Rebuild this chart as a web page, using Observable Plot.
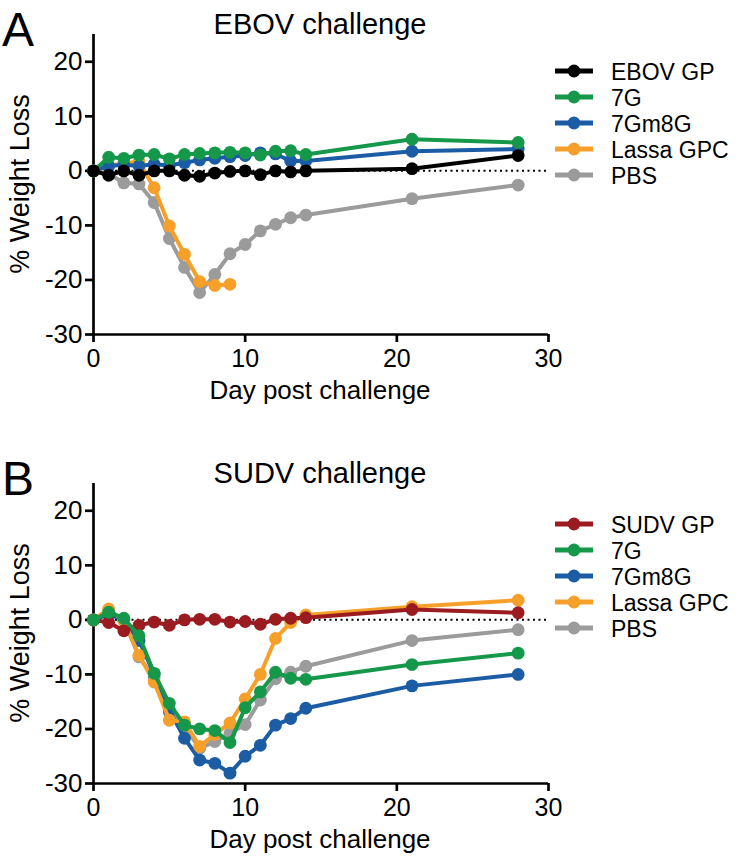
<!DOCTYPE html>
<html><head><meta charset="utf-8">
<script src="https://cdn.jsdelivr.net/npm/d3@7"></script>
<script src="https://cdn.jsdelivr.net/npm/@observablehq/plot@0.6"></script>
<style>
body{margin:0;background:#fff}
#wrap{position:relative;width:750px;height:858px;font-family:"Liberation Sans",Arial,sans-serif;overflow:hidden}
#wrap > *{position:absolute;left:0}
</style></head><body><div id="wrap"></div>
<script>
// ---- data ----
const days = [0,1,2,3,4,5,6,7,8,9,10,11,12,13,14,21,28];
const xTicks = [0,10,20,30];
const yTicks = [-30,-20,-10,0,10,20];

const namesA = ["EBOV GP","7G","7Gm8G","Lassa GPC","PBS"];
const colorsA = ["#000000","#16984a","#1b5ca5","#f6a02a","#9b9b9b"];
const ebovGP_A = [0,-0.8,0,-0.8,0,0,-0.8,-1.0,-0.4,-0.1,0,-0.7,0,-0.2,0,0.4,2.8];
const g7_A     = [0,2.5,2.3,2.9,3.0,2.2,3.0,3.2,3.3,3.4,3.3,2.9,3.6,3.7,3.0,5.8,5.2];
const g7m8_A   = [0,0.9,1.1,0.9,1.2,1.0,1.5,2.0,2.3,2.6,2.8,3.3,3.1,1.8,1.8,3.6,4.0];
const lassa_A  = [0,0.8,1.5,1.6,-3.1,-10.1,-15.3,-20.3,-21.0,-20.8];
const pbs_A    = [0,-0.5,-2.2,-2.4,-5.8,-12.4,-17.7,-22.3,-19.0,-15.2,-13.5,-11.0,-9.8,-8.6,-8.1,-5.1,-2.6];
const orderA = ["PBS","Lassa GPC","7Gm8G","7G","EBOV GP"];

const namesB = ["SUDV GP","7G","7Gm8G","Lassa GPC","PBS"];
const colorsB = ["#9a1c20","#16984a","#1b5ca5","#f6a02a","#9b9b9b"];
const sudvGP_B = [0,-0.5,-2.0,-1.0,-0.4,-1.0,0,0.1,0.1,-0.4,-0.3,-0.8,0.1,0.3,0.4,1.9,1.3];
const g7_B     = [0,1.4,0.3,-2.9,-9.8,-15.3,-19.3,-20.0,-20.3,-22.5,-16.1,-13.2,-9.6,-10.7,-10.9,-8.2,-6.1];
const g7m8_B   = [0,1.0,0,-3.8,-9.9,-16.6,-21.7,-25.7,-26.3,-28.1,-25.0,-23.0,-19.3,-18.1,-16.2,-12.1,-10.0];
const lassa_B  = [0,2.0,-0.2,-6.5,-11.4,-18.4,-18.7,-23.2,-21.0,-18.9,-14.5,-10.0,-3.4,-0.5,0.9,2.4,3.6];
const pbs_B    = [0,1.5,0,-6.8,-10.5,-17.0,-19.5,-23.6,-22.3,-20.8,-19.2,-14.7,-10.8,-9.6,-8.5,-3.8,-1.8];
const orderB = ["PBS","7Gm8G","Lassa GPC","SUDV GP","7G"];

const FONT = '"Liberation Sans", Arial, sans-serif';

function panel(names, colors, values, order, height){
  const rows = [];
  names.forEach((n,i)=> values[i].forEach((v,j)=> rows.push({series:n, day:days[j], value:v})));
  const marks = [
    Plot.ruleY([0], {x1:0, x2:30, stroke:"#000", strokeWidth:2, strokeDasharray:"2,3.5"}),
    Plot.ruleX([0], {stroke:"#000", strokeWidth:2.7}),
    Plot.ruleY([-30], {stroke:"#000", strokeWidth:2.7}),
    Plot.axisX({ticks:xTicks, tickSize:8, tickPadding:7, strokeWidth:2.7, label:null, fontSize:25, tickFormat:d=>String(d)}),
    Plot.axisY({ticks:yTicks, tickSize:8, tickPadding:3, strokeWidth:2.7, label:null, fontSize:26, tickFormat:d=>String(d)})
  ];
  order.forEach(n => {
    const d = rows.filter(r=>r.series===n);
    marks.push(Plot.line(d, {x:"day", y:"value", stroke:"series", strokeWidth:4}));
    marks.push(Plot.dot(d, {x:"day", y:"value", fill:"series", r:6.4}));
  });
  return Plot.plot({
    width:750, height,
    marginLeft:93, marginRight:202, marginTop:34, marginBottom: height-334,
    x:{domain:[0,30]}, y:{domain:[-30,25]},
    color:{domain:names, range:colors},
    style:{fontFamily:FONT, fontSize:"26px", color:"#000", background:"transparent", overflow:"visible"},
    marks
  });
}

const wrap = document.getElementById("wrap");
const pA = panel(namesA, colorsA, [ebovGP_A,g7_A,g7m8_A,lassa_A,pbs_A], orderA, 429);
pA.style.top = "0px";
wrap.appendChild(pA);
const pB = panel(namesB, colorsB, [sudvGP_B,g7_B,g7m8_B,lassa_B,pbs_B], orderB, 409);
pB.style.top = "449px";
wrap.appendChild(pB);

// ---- overlay texts and legends ----
const ov = d3.select(wrap).append("svg")
  .attr("width",750).attr("height",858)
  .style("top","0px").style("pointer-events","none")
  .attr("font-family", FONT);

const panels = [
  {letter:"A", title:"EBOV challenge", off:0, names:namesA, colors:colorsA, legY:[71,97,123,149,175]},
  {letter:"B", title:"SUDV challenge", off:449, names:namesB, colors:colorsB, legY:[524,550,576,602,628]}
];
panels.forEach(p=>{
  ov.append("text").attr("x",2).attr("y",p.off+46).attr("font-size",48).text(p.letter);
  ov.append("text").attr("x",320).attr("y",p.off+34).attr("font-size",29).attr("text-anchor","middle").text(p.title);
  ov.append("text").attr("transform",`translate(29,${p.off+184}) rotate(-90)`)
    .attr("font-size",27).attr("text-anchor","middle").text("% Weight Loss");
  ov.append("text").attr("x",320).attr("y",p.off+399).attr("font-size",26).attr("text-anchor","middle").text("Day post challenge");
  const g = ov.append("g");
  p.names.forEach((n,i)=>{
    const y = p.legY[i];
    g.append("line").attr("x1",555).attr("x2",593).attr("y1",y).attr("y2",y)
      .attr("stroke",p.colors[i]).attr("stroke-width",4.8);
    g.append("circle").attr("cx",574).attr("cy",y).attr("r",6.4).attr("fill",p.colors[i]);
    g.append("text").attr("x",611).attr("y",y+8.5).attr("font-size",23).text(n);
  });
});
</script></body></html>
